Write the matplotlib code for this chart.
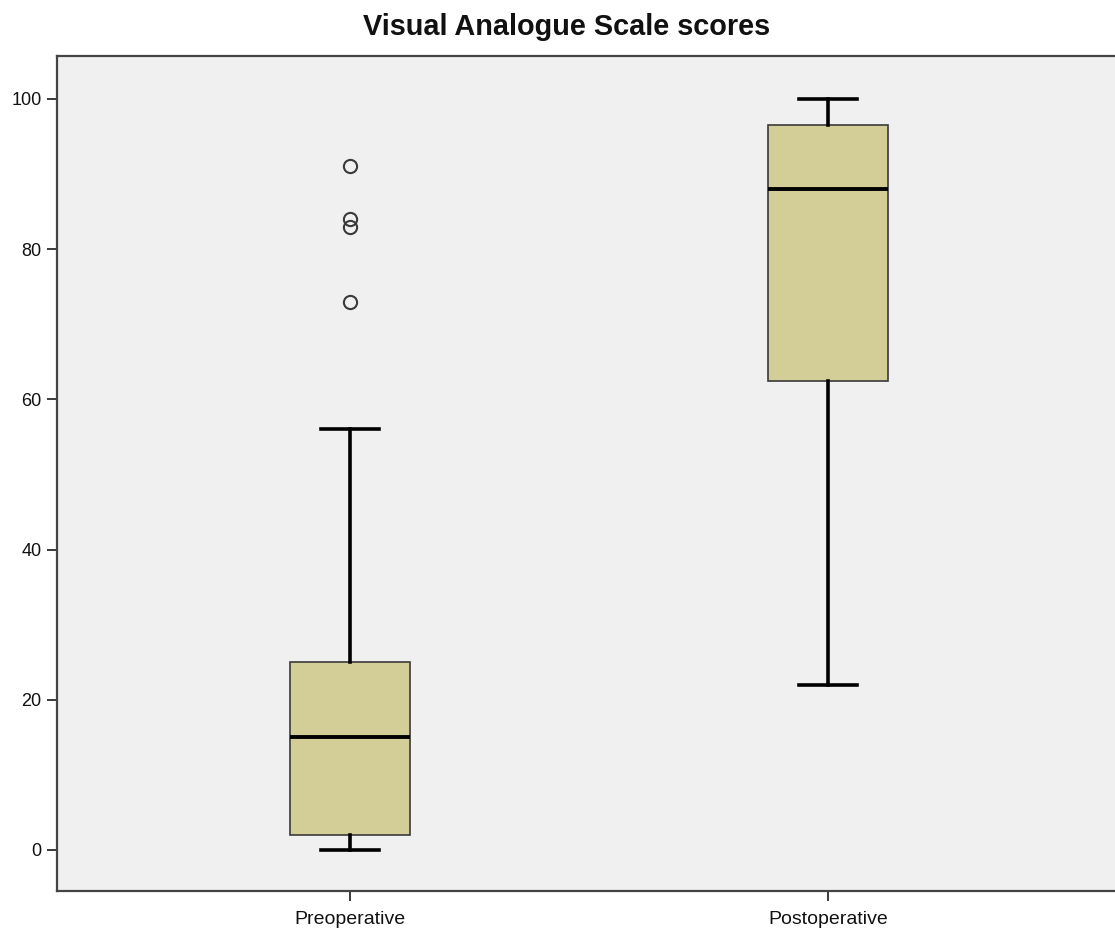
import matplotlib
matplotlib.use('Agg')
import matplotlib.pyplot as plt

plt.rcParams['font.family'] = ['Liberation Sans', 'DejaVu Sans']

groups = ["Preoperative", "Postoperative"]
q1 = [2, 62.5]
median = [15, 88]
q3 = [25, 96.5]
whis_lo = [0, 22]
whis_hi = [56, 100]
outliers = [[91, 84, 83, 73], []]
y_ticks = [0, 20, 40, 60, 80, 100]

BOX_FILL = "#d3ce98"
PANEL_BG = "#f0f0f0"
EDGE = "#3a3a3a"

stats = []
for i, name in enumerate(groups):
    stats.append(dict(label=name, med=median[i], q1=q1[i], q3=q3[i],
                      whislo=whis_lo[i], whishi=whis_hi[i], fliers=outliers[i]))

fig = plt.figure(figsize=(11.15, 9.34), dpi=100)
ax = fig.add_axes([57 / 1115, 43 / 934, 1064 / 1115, 835 / 934])
ax.set_facecolor(PANEL_BG)

ax.bxp(stats, positions=[1, 2], widths=0.251, capwidths=0.123, patch_artist=True,
       boxprops=dict(facecolor=BOX_FILL, edgecolor=EDGE, linewidth=1.2),
       medianprops=dict(color="black", linewidth=2.8, solid_capstyle='butt'),
       whiskerprops=dict(color="black", linewidth=2.6),
       capprops=dict(color="black", linewidth=2.6),
       flierprops=dict(marker='o', markersize=9.5, markerfacecolor='none',
                       markeredgecolor=EDGE, markeredgewidth=1.5))

ax.set_xlim(1 - 293 / 478, 2 + 293 / 478)
ax.set_ylim(-5.46, 105.7)
ax.set_yticks(y_ticks)
ax.set_yticklabels([str(v) for v in y_ticks])
ax.tick_params(axis='both', direction='out', length=7.5, width=1.4,
               color=EDGE, labelsize=13, labelcolor="#111111")
ax.tick_params(axis='x', labelsize=14, pad=7)
for side in ['left', 'bottom', 'top', 'right']:
    ax.spines[side].set_color("#444444")
    ax.spines[side].set_linewidth(1.6)

fig.text(567 / 1115, 1 - 27 / 934, "Visual Analogue Scale scores",
         ha='center', va='center', fontsize=20.8, fontweight='bold', color="#111111")

fig.savefig("out.png", dpi=100, facecolor="white")
